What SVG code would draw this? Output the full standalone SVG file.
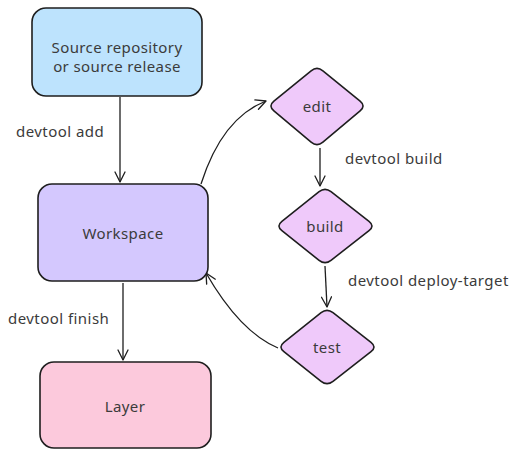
<svg xmlns="http://www.w3.org/2000/svg" width="510" height="450" viewBox="0 0 510 450">
  <defs>
    <marker id="arrow" viewBox="0 0 12 12" refX="11" refY="6" markerWidth="12" markerHeight="12" markerUnits="userSpaceOnUse" orient="auto">
      <path d="M1,1 L11,6 L1,11" fill="none" stroke="#1e1e1e" stroke-width="1.3" stroke-linecap="round" stroke-linejoin="round"/>
    </marker>
    <style>
      .box { stroke: #1e1e1e; stroke-width: 1.6; stroke-linejoin: round; }
      .lbl { font-family: "Noto Sans", "DejaVu Sans", sans-serif; font-size: 15px; letter-spacing: 0.4px; fill: #3b3b3b; text-anchor: middle; dominant-baseline: central; }
      .edge { font-family: "Noto Sans", "DejaVu Sans", sans-serif; font-size: 15px; letter-spacing: 0.45px; fill: #3b3b3b; dominant-baseline: central; }
      .conn { fill: none; stroke: #1e1e1e; stroke-width: 1.3; marker-end: url(#arrow); }
      .diamond { fill: #efc9fa; }
    </style>
  </defs>
  <rect width="510" height="450" fill="#ffffff"/>

  <g id="connectors">
    <path class="conn" d="M120,97 L120,182"/>
    <path class="conn" d="M123,283 L123,360"/>
    <path class="conn" d="M320,148 L320,186"/>
    <path class="conn" d="M325,266 L327,307"/>
    <path class="conn" d="M201,184 Q222,118 266,101"/>
    <path class="conn" d="M278,348 Q240,332 206,273"/>
  </g>

  <g id="edge-labels">
    <text class="edge" x="16" y="131">devtool add</text>
    <text class="edge" x="8" y="318">devtool finish</text>
    <text class="edge" x="345" y="158">devtool build</text>
    <text class="edge" x="348" y="280">devtool deploy-target</text>
  </g>

  <g id="source">
    <rect class="box" x="32" y="8" width="170" height="88" rx="14" fill="#bde3fd"/>
    <text class="lbl" x="117" y="47">Source repository</text>
    <text class="lbl" x="117" y="66">or source release</text>
  </g>

  <g id="workspace">
    <rect class="box" x="38" y="184" width="170" height="97" rx="14" fill="#d4c8fe"/>
    <text class="lbl" x="123" y="233">Workspace</text>
  </g>

  <g id="layer">
    <rect class="box" x="40" y="362" width="171" height="86" rx="14" fill="#fcc9dc"/>
    <text class="lbl" x="125" y="406">Layer</text>
  </g>

  <g id="edit">
    <path class="box diamond" d="M322.9,70.8 L360.1,101.2 Q366,106 360.1,110.9 L322.9,142.1 Q317,147 311.1,142.1 L273.9,110.9 Q268,106 273.9,101.2 L311.1,70.8 Q317,66 322.9,70.8 Z"/>
    <text class="lbl" x="317" y="106">edit</text>
  </g>

  <g id="build">
    <path class="box diamond" d="M331,191.7 L369,221.3 Q375,226 369,230.7 L331,260.3 Q325,265 319.1,260.3 L281.9,230.7 Q276,226 281.9,221.3 L319.1,191.7 Q325,187 331,191.7 Z"/>
    <text class="lbl" x="325" y="226">build</text>
  </g>

  <g id="test">
    <path class="box diamond" d="M333,312.7 L371,342.3 Q377,347 371,351.7 L333,381.3 Q327,386 321.1,381.3 L283.9,351.7 Q278,347 283.9,342.3 L321.1,312.7 Q327,308 333,312.7 Z"/>
    <text class="lbl" x="327" y="347">test</text>
  </g>
</svg>
